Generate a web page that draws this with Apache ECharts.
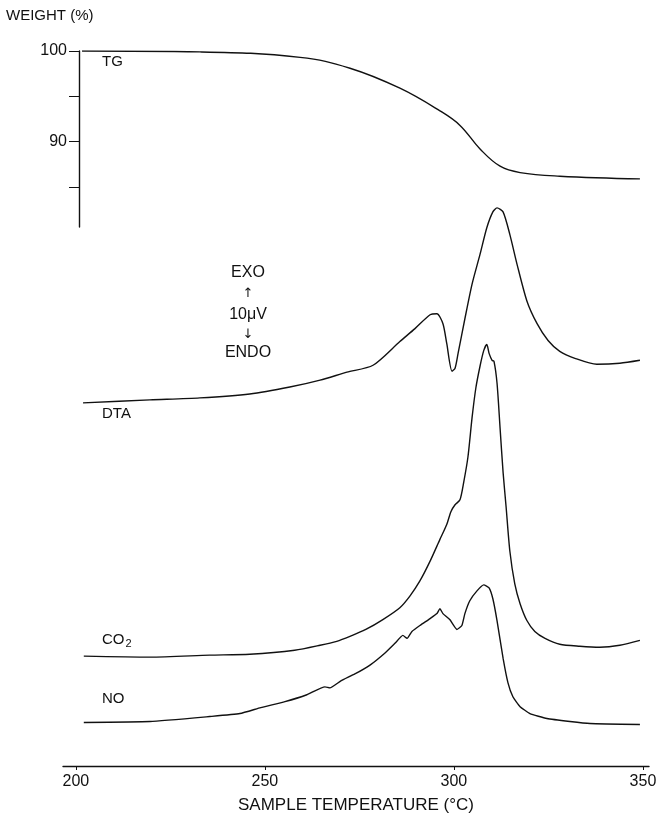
<!DOCTYPE html>
<html>
<head>
<meta charset="utf-8">
<script src="https://cdn.jsdelivr.net/npm/echarts@6/dist/echarts.min.js"></script>
<style>html,body{margin:0;padding:0;background:#fff}#c{width:660px;height:819px}</style>
</head>
<body>
<div id="c"></div>
<script>
// ---- data ----
const xTickValues = [200, 250, 300, 350];
const tgTickValues = [85, 90, 95, 100];
const tgLabelValues = [90, 100];

// TG: temperature (°C) / weight (%)
const tgTemp   = [201.6, 232.8, 259.3, 272.5, 285.7, 296.3, 301.6, 306.9, 312.2, 317.5, 328.0, 349.2];
const tgWeight = [100.0, 99.9, 99.3, 98.1, 95.9, 93.4, 91.8, 89.2, 87.3, 86.6, 86.2, 85.9];

// DTA (arbitrary offset units)
const dtaTemp = [201.9, 219.6, 232.8, 246.0, 256.6, 264.6, 271.7, 278.6, 285.7, 289.7, 293.7, 295.5, 297.1, 298.1, 299.5, 300.3, 301.1, 302.9, 304.8, 306.9, 308.7, 310.3, 311.4, 313.0, 314.8, 316.7, 319.3, 322.0, 324.9, 328.0, 332.0, 337.8, 343.9, 349.2];
const dtaSignal = [36.7, 37.0, 37.2, 37.6, 38.3, 39.0, 39.8, 40.5, 42.9, 44.2, 45.6, 45.7, 44.7, 42.7, 39.9, 40.2, 41.7, 45.2, 48.7, 51.7, 54.4, 56.0, 56.4, 56.0, 53.7, 50.7, 47.0, 44.7, 43.0, 41.9, 41.2, 40.6, 40.7, 41.0];

// CO2 (arbitrary offset units)
const co2Temp = [202.1, 219.6, 235.4, 246.0, 257.9, 264.6, 269.0, 272.5, 276.7, 281.2, 285.7, 288.4, 291.0, 293.7, 296.3, 298.1, 299.2, 300.3, 301.6, 302.6, 303.7, 304.8, 305.8, 306.9, 307.9, 308.7, 309.3, 310.1, 310.6, 311.4, 312.2, 313.0, 313.8, 314.8, 316.1, 317.5, 319.3, 321.4, 324.1, 328.0, 333.3, 338.6, 343.9, 349.2];
const co2Signal = [11.1, 11.0, 11.2, 11.3, 11.7, 12.2, 12.6, 13.1, 13.8, 14.8, 16.0, 17.2, 18.7, 20.7, 22.9, 24.4, 25.7, 26.4, 26.9, 28.7, 31.2, 35.2, 38.2, 40.4, 42.0, 42.6, 41.7, 41.0, 40.9, 38.7, 34.2, 29.7, 26.2, 21.7, 18.4, 16.4, 14.7, 13.6, 12.9, 12.3, 12.1, 12.0, 12.2, 12.7];

// NO (arbitrary offset units)
const noTemp = [202.1, 219.6, 235.4, 243.4, 248.9, 255.3, 261.1, 265.9, 267.2, 270.1, 273.8, 277.8, 281.7, 284.4, 286.5, 287.6, 288.9, 291.0, 293.7, 295.5, 296.3, 297.1, 298.9, 300.8, 302.1, 302.9, 304.2, 306.1, 307.9, 309.3, 310.3, 311.4, 313.0, 314.3, 315.6, 317.5, 320.1, 324.6, 330.7, 336.0, 349.2];
const noSignal = [4.4, 4.5, 5.0, 5.3, 5.9, 6.5, 7.2, 8.0, 7.9, 8.6, 9.3, 10.2, 11.4, 12.4, 13.2, 12.9, 13.6, 14.2, 14.9, 15.4, 15.9, 15.4, 14.8, 13.8, 14.2, 15.4, 16.7, 17.7, 18.3, 18.0, 16.9, 14.7, 10.9, 8.4, 7.0, 6.0, 5.3, 4.8, 4.5, 4.3, 4.2];

const zip = (a, b) => a.map((v, i) => [v, b[i]]);
const FONT = '"Liberation Sans", Arial, sans-serif';
const ARROW_FONT = '"DejaVu Sans", sans-serif';
const lineStyle = { color: '#111', width: 1.4 };

const chart = echarts.init(document.getElementById('c'), null, { renderer: 'canvas' });
chart.setOption({
  backgroundColor: '#fff',
  animation: false,
  textStyle: { fontFamily: FONT, color: '#111' },
  grid: [
    { left: 79, right: 11, top: 51, height: 176 },
    { left: 63, right: 11, top: 200, height: 572 }
  ],
  xAxis: [
    { gridIndex: 0, type: 'value', min: 200.8, max: 351.6, show: false },
    {
      gridIndex: 1, type: 'value', min: 196.6, max: 351.6,
      axisLine: { show: true, onZero: false, lineStyle: { color: '#111', width: 1.4 } },
      axisTick: { show: true, length: 4, customValues: xTickValues, lineStyle: { color: '#111' } },
      axisLabel: { customValues: xTickValues, fontSize: 16, color: '#111', margin: 8, fontFamily: FONT },
      splitLine: { show: false },
      name: 'SAMPLE TEMPERATURE (°C)', nameLocation: 'middle', nameGap: 31,
      nameTextStyle: { fontSize: 17, color: '#111', fontFamily: FONT }
    }
  ],
  yAxis: [
    {
      gridIndex: 0, type: 'value', min: 80.6, max: 100,
      axisLine: { show: true, lineStyle: { color: '#111', width: 1.4 } },
      axisTick: { show: true, length: 10, customValues: tgTickValues, lineStyle: { color: '#111' } },
      axisLabel: { customValues: tgLabelValues, fontSize: 16, color: '#111', margin: 12, fontFamily: FONT },
      splitLine: { show: false }
    },
    { gridIndex: 1, type: 'value', min: 0, max: 57.2, show: false }
  ],
  series: [
    { type: 'line', xAxisIndex: 0, yAxisIndex: 0, data: zip(tgTemp, tgWeight), showSymbol: false, smooth: 0.4, lineStyle },
    { type: 'line', xAxisIndex: 1, yAxisIndex: 1, data: zip(dtaTemp, dtaSignal), showSymbol: false, smooth: 0.25, lineStyle },
    { type: 'line', xAxisIndex: 1, yAxisIndex: 1, data: zip(co2Temp, co2Signal), showSymbol: false, smooth: 0.25, lineStyle },
    { type: 'line', xAxisIndex: 1, yAxisIndex: 1, data: zip(noTemp, noSignal), showSymbol: false, smooth: 0.15, lineStyle }
  ],
  graphic: [
    { type: 'text', left: 6, top: 8, style: { text: 'WEIGHT (%)', font: '15px ' + FONT, fill: '#111' } },
    { type: 'text', left: 102, top: 54, style: { text: 'TG', font: '15px ' + FONT, fill: '#111' } },
    { type: 'text', left: 102, top: 406, style: { text: 'DTA', font: '15px ' + FONT, fill: '#111' } },
    { type: 'text', x: 248, y: 273, style: { text: 'EXO', font: '16px ' + FONT, fill: '#111', align: 'center', verticalAlign: 'middle' } },
    { type: 'text', x: 248, y: 294, style: { text: '↑', font: '13px ' + ARROW_FONT, fill: '#111', align: 'center', verticalAlign: 'middle' } },
    { type: 'text', x: 248, y: 315, style: { text: '10μV', font: '16px ' + FONT, fill: '#111', align: 'center', verticalAlign: 'middle' } },
    { type: 'text', x: 248, y: 335, style: { text: '↓', font: '13px ' + ARROW_FONT, fill: '#111', align: 'center', verticalAlign: 'middle' } },
    { type: 'text', x: 248, y: 353, style: { text: 'ENDO', font: '16px ' + FONT, fill: '#111', align: 'center', verticalAlign: 'middle' } },
    { type: 'text', left: 102, top: 632, style: {
        text: '{m|CO}{s|2}', fill: '#111',
        rich: { m: { fontSize: 15, fontFamily: FONT, color: '#111' }, s: { fontSize: 11, fontFamily: FONT, color: '#111', padding: [8, 0, 0, 1] } }
      } },
    { type: 'text', left: 102, top: 691, style: { text: 'NO', font: '15px ' + FONT, fill: '#111' } }
  ]
});
</script>
</body>
</html>
